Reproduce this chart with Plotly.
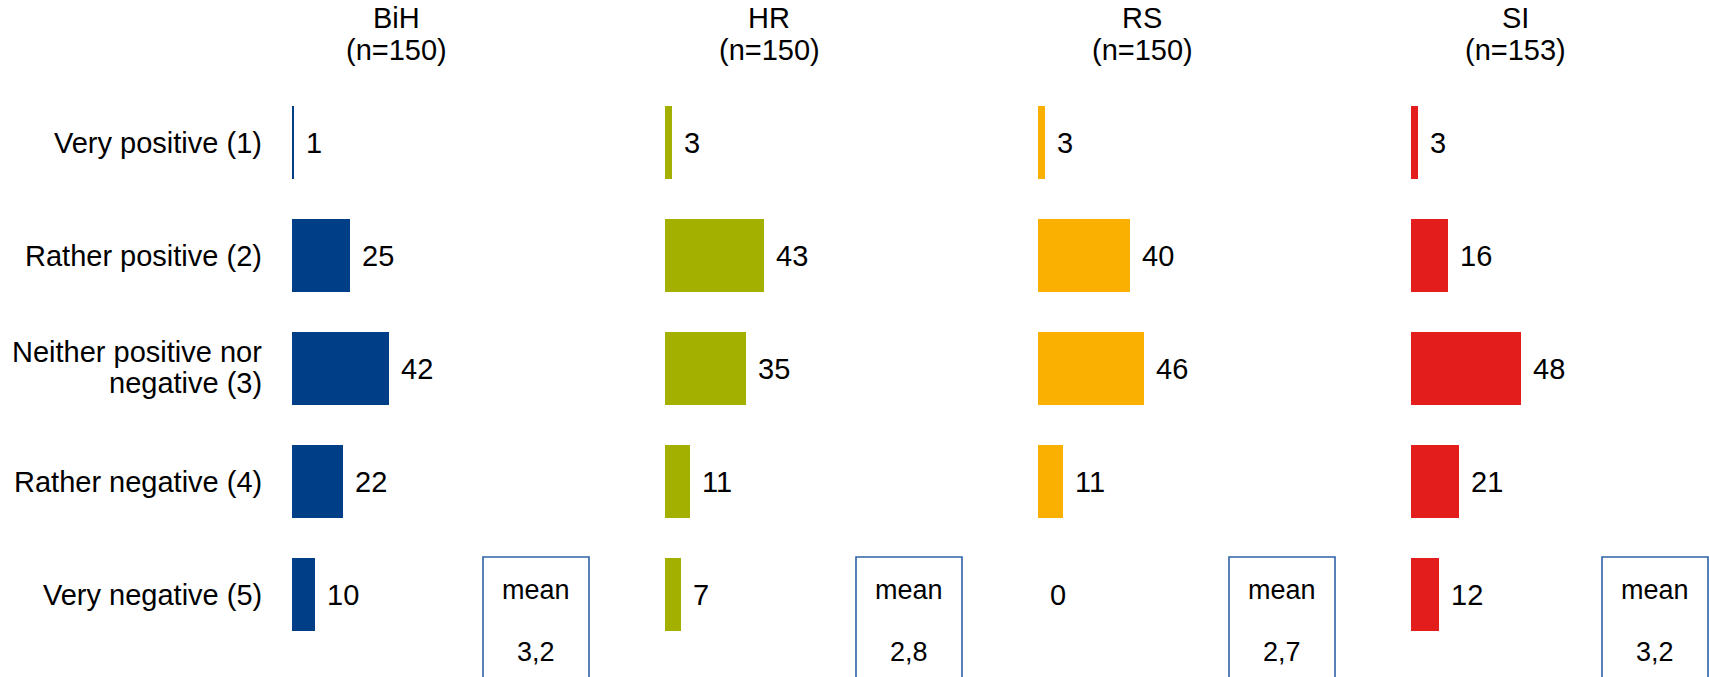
import plotly.graph_objects as go

W, H = 1709, 677

categories = ["Very positive (1)", "Rather positive (2)", "Neither positive nor negative (3)",
              "Rather negative (4)", "Very negative (5)"]
category_lines = [["Very positive (1)"], ["Rather positive (2)"],
                  ["Neither positive nor", "negative (3)"],
                  ["Rather negative (4)"], ["Very negative (5)"]]
countries = ["BiH", "HR", "RS", "SI"]
sample_sizes = [150, 150, 150, 153]
bih = [1, 25, 42, 22, 10]
hr = [3, 43, 35, 11, 7]
rs = [3, 40, 46, 11, 0]
si = [3, 16, 48, 21, 12]
means = [3.2, 2.8, 2.7, 3.2]
colors = ["#003f87", "#a3b000", "#f9b000", "#e31d1c"]

series = [bih, hr, rs, si]

# layout helpers (pixel -> paper)
def px(x):
    return x / W

def py(y):
    return 1 - y / H

FONT = "Liberation Sans, Arial, sans-serif"
FS = 29
scale = 2.3             # px per percent
starts = [292, 665, 1038, 1411]
row0, row_step = 142.5, 113.1

fig = go.Figure()
layout_axes = {}
annotations = []
shapes = []

for k, (name, vals, col) in enumerate(zip(countries, series, colors)):
    ax = "x" if k == 0 else f"x{k+1}"
    axname = "xaxis" if k == 0 else f"xaxis{k+1}"
    x0 = starts[k]
    x1 = min(x0 + 300, W)
    fig.add_trace(go.Bar(
        x=vals, y=categories, orientation="h", xaxis=ax, yaxis="y",
        marker=dict(color=col, line=dict(width=0)), width=0.645,
        showlegend=False, hoverinfo="x+y",
    ))
    layout_axes[axname] = dict(domain=[px(x0), px(x1)], range=[0, (x1 - x0) / scale],
                               visible=False, anchor="y", fixedrange=True)
    for v, c in zip(vals, categories):
        annotations.append(dict(x=v, y=c, xref=ax, yref="y", text=str(v), showarrow=False,
                                xanchor="left", yanchor="middle", xshift=10,
                                font=dict(size=FS, color="#000000", family=FONT)))
    # headers
    annotations.append(dict(x=px(x0 + 104), y=py(18), xref="paper", yref="paper", text=name,
                            showarrow=False, xanchor="center", yanchor="middle",
                            font=dict(size=FS, color="#000000", family=FONT)))
    annotations.append(dict(x=px(x0 + 104), y=py(50), xref="paper", yref="paper",
                            text=f"(n={sample_sizes[k]})",
                            showarrow=False, xanchor="center", yanchor="middle",
                            font=dict(size=FS, color="#000000", family=FONT)))
    # mean box
    bx0, bx1 = x0 + 191, min(x0 + 297, W - 1)
    shapes.append(dict(type="rect", xref="paper", yref="paper",
                       x0=px(bx0), x1=px(bx1), y0=py(557), y1=py(720),
                       line=dict(color="#2f62a8", width=1.6), fillcolor="rgba(0,0,0,0)"))
    cx = (bx0 + bx1) / 2
    annotations.append(dict(x=px(cx), y=py(590), xref="paper", yref="paper", text="mean",
                            showarrow=False, xanchor="center", yanchor="middle",
                            font=dict(size=FS - 2, color="#000000", family=FONT)))
    annotations.append(dict(x=px(cx), y=py(652), xref="paper", yref="paper",
                            text=f"{means[k]:.1f}".replace(".", ","),
                            showarrow=False, xanchor="center", yanchor="middle",
                            font=dict(size=FS - 2, color="#000000", family=FONT)))

# category labels (right-aligned, left of the first panel)
for c, lines in zip(categories, category_lines):
    if len(lines) == 1:
        shifts = [0]
    else:
        shifts = [17, -14]
    for line, s in zip(lines, shifts):
        annotations.append(dict(x=px(264), y=c, xref="paper", yref="y", text=line,
                                showarrow=False, xanchor="right", yanchor="middle", yshift=s,
                                font=dict(size=FS, color="#000000", family=FONT)))

y_top = -row0 / row_step
y_bot = (H - row0) / row_step

fig.update_layout(
    width=W, height=H,
    margin=dict(l=0, r=0, t=0, b=0),
    paper_bgcolor="white", plot_bgcolor="white",
    font=dict(family=FONT, size=FS, color="#000000"),
    yaxis=dict(type="category", categoryorder="array", categoryarray=categories,
               range=[y_bot, y_top], anchor="x", showgrid=False, showline=False,
               zeroline=False, ticks="", showticklabels=False, fixedrange=True),
    annotations=annotations, shapes=shapes,
    bargap=0,
    **layout_axes,
)

fig.write_html("out.html", config={"displayModeBar": False},
               post_script="document.body.style.margin='0';")
